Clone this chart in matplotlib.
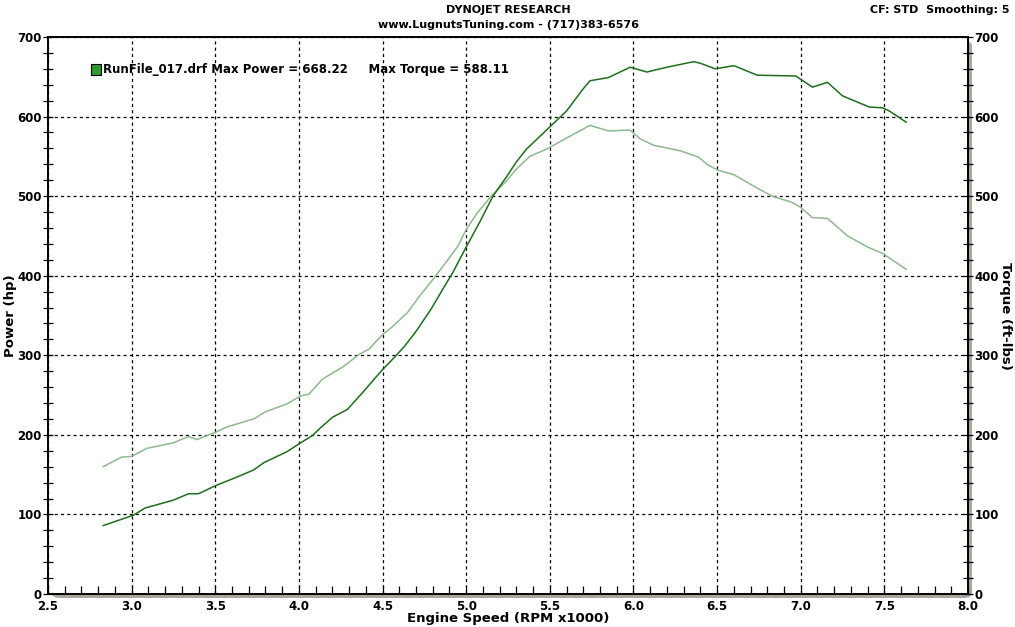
import numpy as np
import matplotlib
matplotlib.use("Agg")
import matplotlib.pyplot as plt
from matplotlib.patches import FancyBboxPatch, Rectangle
from matplotlib.ticker import MultipleLocator

# power run (hp) vs rpm x1000
rpm_p = [2.83, 3.01, 3.08, 3.25, 3.34, 3.40, 3.50, 3.63, 3.73, 3.79, 3.93, 4.01,
         4.08, 4.13, 4.20, 4.29, 4.38, 4.45, 4.50, 4.56, 4.63, 4.70, 4.79, 4.86,
         4.92, 5.00, 5.08, 5.16, 5.24, 5.30, 5.36, 5.50, 5.60, 5.70, 5.74, 5.85,
         5.98, 6.08, 6.20, 6.36, 6.40, 6.49, 6.60, 6.74, 6.97, 7.07, 7.16, 7.25,
         7.41, 7.49, 7.53, 7.63]
power = [86, 99, 108, 118, 126, 126, 136, 147, 156, 165, 179, 190,
         199, 209, 222, 232, 253, 270, 282, 295, 311, 330, 358, 383,
         404, 436, 467, 500, 524, 543, 559, 587, 607, 635, 645, 649,
         662, 656, 662, 669, 667, 660, 664, 652, 651, 637, 643, 626,
         612, 611, 607, 593]

# torque run (ft-lbs)
rpm_t = [2.83, 2.94, 3.00, 3.09, 3.25, 3.34, 3.39, 3.50, 3.57, 3.73, 3.80, 3.93,
         4.01, 4.06, 4.14, 4.26, 4.36, 4.42, 4.50, 4.56, 4.65, 4.72, 4.80, 4.88,
         4.95, 5.00, 5.07, 5.15, 5.24, 5.30, 5.38, 5.48, 5.60, 5.74, 5.85, 5.98,
         6.04, 6.12, 6.28, 6.39, 6.44, 6.50, 6.60, 6.74, 6.83, 6.95, 7.00, 7.07,
         7.16, 7.28, 7.40, 7.49, 7.63]
torque = [160, 172, 173, 183, 190, 198, 194, 203, 210, 220, 229, 239,
          249, 251, 270, 285, 301, 308, 326, 336, 354, 374, 395, 417,
          437, 458, 480, 500, 519, 534, 550, 559, 573, 589, 582, 583,
          572, 564, 557, 549, 540, 533, 527, 510, 500, 492, 486, 473,
          472, 450, 436, 428, 408]

xticks = [2.5, 3.0, 3.5, 4.0, 4.5, 5.0, 5.5, 6.0, 6.5, 7.0, 7.5, 8.0]
yticks = [0, 100, 200, 300, 400, 500, 600, 700]

W, H = 1015, 627
fig = plt.figure(figsize=(W / 100, H / 100), dpi=100)
fig.patch.set_facecolor("white")
plt.rcParams["font.family"] = ["DejaVu Sans"]

l, r, b, t = 48 / W, 968 / W, (H - 594) / H, (H - 37) / H
ax = fig.add_axes([l, b, r - l, t - b])
ax.set_facecolor("white")

# grey drop shadow on right / bottom
sh = FancyBboxPatch((l + 4 / W, b - 4 / H), r - l, t - b,
                    boxstyle="round,pad=0,rounding_size=0.008",
                    transform=fig.transFigure, facecolor="#aaa69e",
                    edgecolor="none", zorder=-1)
fig.patches.append(sh)

ax.plot(rpm_t, torque, color="#8fb88f", lw=1.1, zorder=3)
ax.plot(rpm_p, power, color="#1d6e1d", lw=1.1, zorder=4)

ax.set_xlim(2.5, 8.0)
ax.set_ylim(0, 700)
ax.set_xticks(xticks)
ax.set_xticklabels(["%.1f" % v for v in xticks])
ax.set_yticks(yticks)
ax.xaxis.set_minor_locator(MultipleLocator(0.1))
ax.yaxis.set_minor_locator(MultipleLocator(20))
ax.grid(True, which="major", color="black", ls=(0, (2.5, 2.5)), lw=0.9)

ax.tick_params(axis="x", which="both", direction="in", length=6, width=0.9,
               labelsize=8.5, pad=4)
ax.tick_params(axis="y", which="both", direction="inout", length=7, width=0.9,
               labelsize=8.5, pad=1)
for lab in ax.get_xticklabels() + ax.get_yticklabels():
    lab.set_fontweight("bold")
for s in ax.spines.values():
    s.set_linewidth(1.2)

ax2 = ax.twinx()
ax2.set_ylim(0, 700)
ax2.set_yticks(yticks)
ax2.yaxis.set_minor_locator(MultipleLocator(20))
ax2.tick_params(axis="y", which="both", direction="inout", length=7, width=0.9,
                labelsize=8.5, pad=1)
for lab in ax2.get_yticklabels():
    lab.set_fontweight("bold")
for s in ax2.spines.values():
    s.set_linewidth(1.2)

ax.set_xlabel("Engine Speed (RPM x1000)", fontsize=9.5, fontweight="bold")
ax.xaxis.set_label_coords(0.5, -18 / 557)
ax.set_ylabel("Power (hp)", fontsize=9.5, fontweight="bold", va="center")
ax.yaxis.set_label_coords(-37 / 920, 0.5)
ax2.set_ylabel("Torque (ft-lbs)", fontsize=9.5, fontweight="bold",
               rotation=270, va="center")
ax2.yaxis.set_label_coords(1 + 38 / 920, 0.5)

fig.text(508 / W, 1 - 10 / H, "DYNOJET RESEARCH", ha="center", va="center",
         fontsize=8, fontweight="bold")
fig.text(508 / W, 1 - 25 / H, "www.LugnutsTuning.com - (717)383-6576",
         ha="center", va="center", fontsize=8, fontweight="bold")
fig.text(1010 / W, 1 - 10 / H, "CF: STD  Smoothing: 5", ha="right",
         va="center", fontsize=8, fontweight="bold")

# legend entry
fig.patches.append(Rectangle((91 / W, 1 - 75 / H), 10 / W, 11 / H,
                             transform=fig.transFigure, facecolor="#2f9a2f",
                             edgecolor="black", lw=0.8, zorder=5))
fig.text(103 / W, 1 - 70 / H,
         "RunFile_017.drf Max Power = 668.22     Max Torque = 588.11",
         ha="left", va="center", fontsize=8.5, fontweight="bold", zorder=6)

fig.savefig("out.png", dpi=100, facecolor="white")
